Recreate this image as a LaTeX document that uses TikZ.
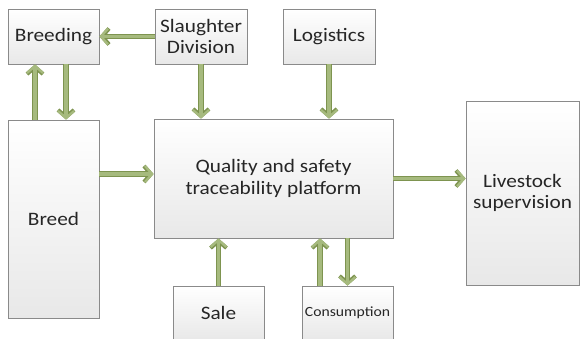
\documentclass[tikz,border=0pt]{standalone}
\usepackage{fontspec}
\setmainfont{Carlito}[FakeStretch=1.12]
\usetikzlibrary{arrows.meta,shadings}
\definecolor{arrfill}{HTML}{A6BA7E}
\definecolor{arrline}{HTML}{7E9450}
\definecolor{boxline}{HTML}{8A8A8A}
\tikzset{
  box/.style={draw=boxline, line width=0.8pt, top color=white, bottom color=black!9,
    minimum width=#1, inner sep=2pt, align=center, text=black!85,
    font=\fontsize{19}{21.5}\selectfont},
  flow/.style={line width=3.4pt, draw=arrfill,
    -{Straight Barb[length=7pt,width=16pt,line width=2.4pt]},
    preaction={draw=arrline, line width=5.2pt,
      -{Straight Barb[length=7pt,width=16pt,line width=4pt]}}}
}
\begin{document}
\begin{tikzpicture}[x=1pt,y=-1pt]
\useasboundingbox (0,0) rectangle (580,339);
\node[box=91pt, minimum height=55pt] (breeding) at (53.5,36.5) {Breeding};
\node[box=92pt, minimum height=55pt] (slaughter) at (201,36.5) {Slaughter\\Division};
\node[box=92pt, minimum height=55pt] (logistics) at (329,36.5) {Logistics};
\node[box=91pt, minimum height=198pt] (breed) at (53.5,219) {Breed};
\node[box=239pt, minimum height=119pt] (platform) at (273.5,178.5) {Quality and safety\\traceability platform};
\node[box=113pt, minimum height=184pt] (livestock) at (522.5,193) {Livestock\\supervision};
\node[box=91pt, minimum height=54pt] (sale) at (218.5,313) {Sale};
\node[box=91pt, minimum height=54pt, font=\fontsize{14}{16}\selectfont] (consumption) at (347.5,313) {Consumption};
\draw[flow] (slaughter.west) -- (breeding.east);
\draw[flow] ([xshift=-18.5pt]breed.north) -- ([xshift=-18.5pt]breeding.south);
\draw[flow] ([xshift=12.5pt]breeding.south) -- ([xshift=12.5pt]breed.north);
\draw[flow] (slaughter.south) -- (slaughter.south |- platform.north);
\draw[flow] (logistics.south) -- (logistics.south |- platform.north);
\draw[flow] ([yshift=45pt]breed.east) coordinate (b1) -- (platform.west |- b1);
\draw[flow] (platform.east) -- (platform.east -| livestock.west);
\draw[flow] (sale.north) -- (sale.north |- platform.south);
\draw[flow] ([xshift=-27.5pt]consumption.north) coordinate (c1) -- (c1 |- platform.south);
\draw[flow] (platform.south -| consumption.north) -- (consumption.north);
\end{tikzpicture}
\end{document}
